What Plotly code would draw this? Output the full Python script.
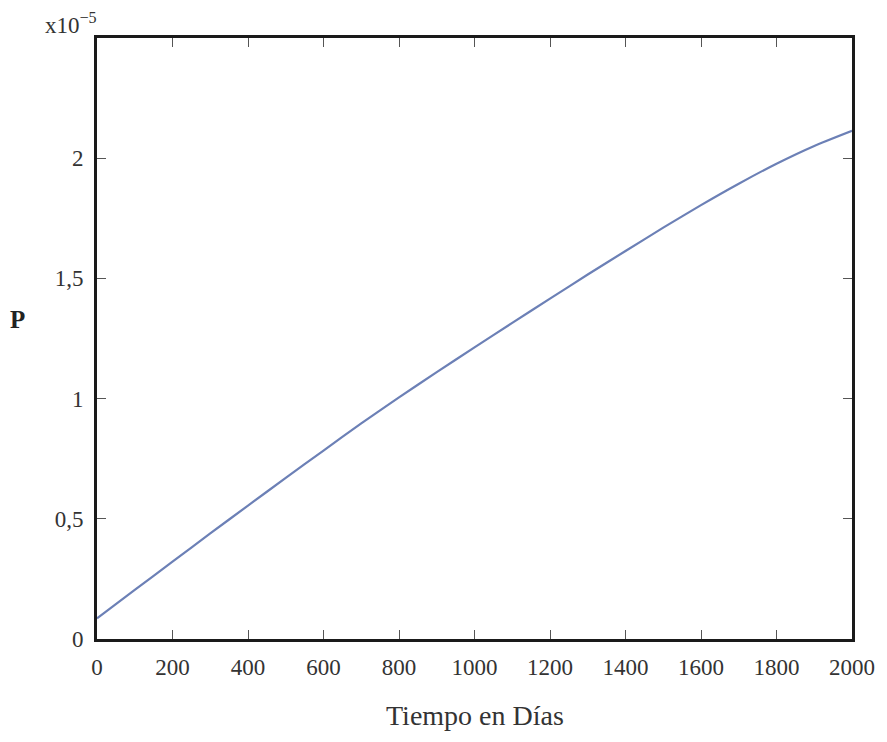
import plotly.graph_objects as go

# Time in days
dias = [0, 100, 200, 300, 400, 500, 600, 700, 800, 900, 1000,
        1100, 1200, 1300, 1400, 1500, 1600, 1700, 1800, 1900, 2000]
# P values (in units of 1e-5)
p_vals = [0.086, 0.204, 0.322, 0.439, 0.555, 0.670, 0.784, 0.897, 1.005, 1.110, 1.213,
          1.315, 1.416, 1.516, 1.614, 1.711, 1.805, 1.894, 1.977, 2.051, 2.114]

x_ticks = [0, 200, 400, 600, 800, 1000, 1200, 1400, 1600, 1800, 2000]
y_ticks = [0, 0.5, 1, 1.5, 2]
y_ticktext = ["0", "0,5", "1", "1,5", "2"]

FONT = "Liberation Serif, DejaVu Serif, serif"

fig = go.Figure()
fig.add_trace(go.Scatter(
    x=dias, y=p_vals, mode="lines",
    line=dict(color="rgb(108,128,182)", width=2.2, shape="spline", smoothing=0.6),
    showlegend=False, hoverinfo="skip",
))

axis_common = dict(
    showline=True, linecolor="#1a1a1a", linewidth=3, mirror="ticks",
    ticks="inside", ticklen=9, tickwidth=1.3, tickcolor="#555555",
    showgrid=False, zeroline=False,
    tickfont=dict(family=FONT, size=23, color="#333333"),
)

fig.update_xaxes(
    range=[0, 2000], tickvals=x_ticks, ticktext=[str(v) for v in x_ticks],
    ticklabelstandoff=5,
    **axis_common,
)
fig.update_yaxes(
    range=[0, 2.5], tickvals=y_ticks, ticktext=y_ticktext,
    ticklabelstandoff=6,
    **axis_common,
)

fig.add_annotation(
    text="Tiempo en Días", xref="paper", yref="paper", x=0.5, y=-0.128,
    xanchor="center", yanchor="middle", showarrow=False,
    font=dict(family=FONT, size=28, color="#333333"),
)
fig.add_annotation(
    text="<b>P</b>", xref="paper", yref="paper", x=-0.118, y=0.532,
    xanchor="left", yanchor="middle", showarrow=False,
    font=dict(family=FONT, size=25, color="#222222"),
)
fig.add_annotation(
    text="x10<sup>−5</sup>", xref="paper", yref="paper", x=-0.071, y=1.0,
    xanchor="left", yanchor="bottom", showarrow=False, yshift=-2,
    font=dict(family=FONT, size=23, color="#333333"),
)

fig.update_layout(
    width=887, height=742,
    margin=dict(l=97, r=30, t=38, b=103),
    paper_bgcolor="white", plot_bgcolor="white",
)

fig.write_html("out.html", config={"displayModeBar": False},
               post_script="document.body.style.margin='0';")
